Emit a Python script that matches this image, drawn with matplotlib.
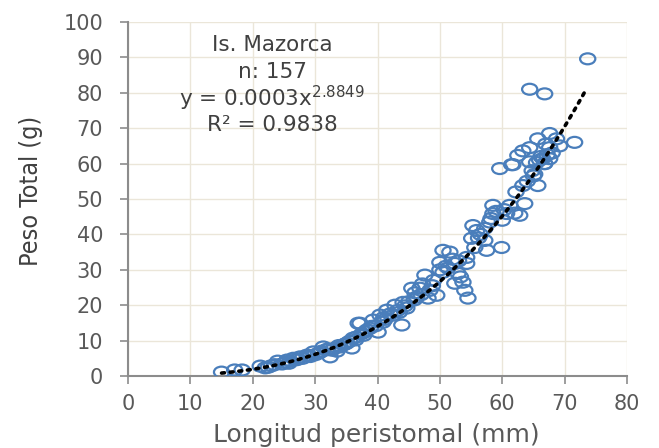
import matplotlib
matplotlib.use("Agg")
import matplotlib.pyplot as plt
from matplotlib.path import Path
from matplotlib.transforms import Affine2D
from matplotlib.font_manager import FontProperties
import numpy as np

# Longitud peristomal (mm)
x_vals = [15.0, 17.1, 18.3, 21.2, 22.0, 22.5, 23.5, 24.0, 24.7, 25.2, 25.5, 26.0, 26.5, 27.0,
          27.6, 28.0, 28.7, 29.2, 29.7, 30.0, 30.5, 31.0, 31.3, 31.8, 32.4, 32.7, 33.0, 33.5,
          34.0, 34.5, 35.1, 35.5, 35.9, 36.1, 36.5, 36.9, 37.2, 37.5, 38.0, 38.3, 38.8, 39.3,
          39.7, 40.1, 40.4, 40.9, 41.2, 41.5, 42.0, 42.5, 42.8, 43.2, 43.9, 44.1, 44.7, 45.0,
          45.5, 45.9, 46.3, 46.8, 47.2, 47.6, 48.1, 48.4, 48.8, 49.5, 50.0, 50.0, 50.5, 50.5,
          51.0, 51.6, 52.0, 52.4, 52.4, 52.9, 53.3, 53.7, 54.0, 54.3, 54.3, 54.5, 55.1, 55.3,
          55.6, 55.9, 56.5, 57.2, 57.2, 57.5, 58.0, 58.5, 58.5, 59.0, 59.6, 59.9, 60.3, 60.7,
          61.2, 61.5, 61.7, 62.0, 62.5, 62.8, 63.3, 63.3, 63.6, 64.0, 64.4, 64.4, 65.0, 65.5,
          65.7, 65.7, 66.0, 66.5, 66.8, 66.8, 67.2, 67.6, 67.6, 67.6, 68.0, 68.7, 69.2, 71.6,
          73.7, 23.0, 25.8, 27.3, 29.0, 30.8, 32.0, 33.8, 34.8, 36.6, 37.8, 39.0, 41.0, 43.5,
          44.4, 46.0, 47.0, 49.0, 51.3, 53.0, 56.2, 58.2, 60.0, 62.2, 64.8, 66.2, 67.0, 65.2,
          64.4, 66.8]
# Peso total (g)
y_vals = [1.1, 1.7, 1.7, 2.8, 2.3, 2.5, 3.2, 4.2, 3.4, 3.8, 4.5, 4.2, 5.0, 4.6,
          5.4, 5.0, 5.9, 5.5, 6.8, 6.0, 6.4, 7.0, 8.2, 7.4, 5.4, 7.3, 7.8, 7.0,
          8.2, 8.8, 9.3, 9.8, 7.9, 10.7, 10.2, 14.9, 14.9, 12.0, 12.5, 13.0, 13.5, 15.8,
          14.2, 12.4, 17.2, 15.2, 16.0, 18.6, 17.5, 17.2, 20.0, 18.5, 14.4, 20.8, 19.2, 21.0,
          24.8, 21.5, 22.3, 24.8, 26.0, 28.5, 22.0, 24.2, 25.5, 22.8, 32.1, 30.0, 35.5, 29.3,
          31.0, 35.0, 33.0, 31.8, 26.2, 29.0, 28.0, 26.5, 24.2, 31.8, 33.5, 22.0, 38.9, 42.5,
          36.3, 41.1, 40.0, 41.7, 38.3, 35.5, 43.5, 48.2, 45.9, 46.5, 58.6, 36.3, 47.0, 45.9,
          48.2, 59.7, 59.7, 46.0, 62.3, 45.4, 63.6, 53.8, 48.7, 55.0, 64.5, 81.0, 56.5, 60.3,
          67.0, 53.8, 61.0, 61.4, 79.7, 60.0, 62.5, 68.5, 64.5, 61.4, 63.0, 67.0, 65.0, 66.0,
          89.6, 2.9, 3.6, 4.8, 5.7, 6.7, 7.6, 8.6, 9.0, 11.0, 11.5, 14.0, 16.5, 18.0,
          19.8, 23.5, 23.0, 27.0, 30.5, 32.5, 39.0, 44.5, 44.0, 52.0, 58.0, 62.0, 65.5, 57.0,
          60.5, 60.0]

fit_a = 0.000335
fit_b = 2.8849
fit_xmin, fit_xmax = 15.0, 73.5

x_ticks = [0, 10, 20, 30, 40, 50, 60, 70, 80]
y_ticks = [0, 10, 20, 30, 40, 50, 60, 70, 80, 90, 100]

wide = ['DejaVu Sans']

fig = plt.figure(figsize=(6.59, 4.48), dpi=100)
ax = fig.add_axes([128/659, 1 - 376/448, (627-128)/659, (376-22)/448])

ellipse = Path.unit_circle().transformed(Affine2D().scale(1.0, 0.72))
ax.scatter(x_vals, y_vals, s=120, marker=ellipse, facecolors='none', edgecolors='#4a7ebb',
           linewidths=1.6, zorder=3)

xf = np.linspace(fit_xmin, fit_xmax, 200)
ax.plot(xf, fit_a * xf ** fit_b, color='black', linestyle=(0, (0.8, 1.6)),
        linewidth=2.6, dash_capstyle='round', zorder=4)

ax.set_xlim(0, 80)
ax.set_ylim(0, 100)
ax.set_xticks(x_ticks)
ax.set_yticks(y_ticks)
ax.grid(True, color='#ebe6d9', linewidth=1.0, zorder=0)
ax.set_axisbelow(True)
for s in ['top', 'right']:
    ax.spines[s].set_visible(False)
for s in ['left', 'bottom']:
    ax.spines[s].set_color('#8c8c8c')
    ax.spines[s].set_linewidth(1.5)
ax.tick_params(axis='both', direction='out', length=6, width=1.2, color='#8c8c8c',
               labelcolor='#595959')
ax.tick_params(axis='x', pad=7)
ax.tick_params(axis='y', pad=12)
tick_fp = FontProperties(family='DejaVu Sans', stretch='normal', size=15)
for lab in ax.get_xticklabels() + ax.get_yticklabels():
    lab.set_fontproperties(tick_fp)

ax.set_xlabel('Longitud peristomal (mm)', fontsize=18, color='#595959', family=wide)
ax.xaxis.set_label_coords(0.498, (376 - 435) / 354)
ax.xaxis.label.set_va('center')
ax.set_ylabel('Peso Total (g)', fontsize=18, color='#404040',
              family=['DejaVu Sans'], fontstretch='condensed')
ax.yaxis.set_label_coords((31 - 128) / 499, (376 - 191) / 354)
ax.yaxis.label.set_va('center')

txt_kw = dict(ha='center', va='center', fontsize=15.5, color='#404040',
              family=wide, transform=fig.transFigure)
cx = 272/659
fig.text(cx, 1 - 45/448, 'Is. Mazorca', **txt_kw)
fig.text(cx, 1 - 72/448, 'n: 157', **txt_kw)
fig.text(cx, 1 - 98/448, r'y = 0.0003x$^{\mathregular{2.8849}}$', **txt_kw)
fig.text(cx, 1 - 125/448, 'R² = 0.9838', **txt_kw)

fig.savefig('out.png', dpi=100)
